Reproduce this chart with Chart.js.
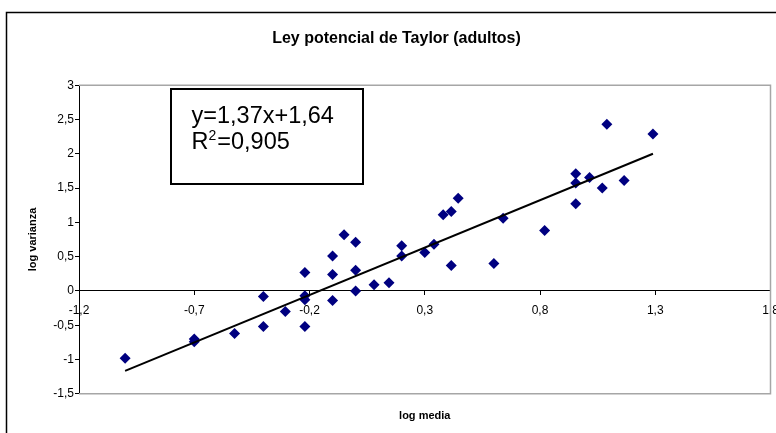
<!DOCTYPE html>
<html>
<head>
<meta charset="utf-8">
<script src="https://cdn.jsdelivr.net/npm/chart.js@4/dist/chart.umd.min.js"></script>
<style>
html,body{margin:0;padding:0;background:#fff;}
#wrap{width:776px;height:433px;position:relative;}
</style>
</head>
<body>
<div id="wrap"><canvas id="c" width="776" height="433"></canvas></div>
<script>
const chartTitle = 'Ley potencial de Taylor (adultos)';
const xTitle = 'log media';
const yTitle = 'log varianza';
const eqLine1 = 'y=1,37x+1,64';
const eqLine2a = 'R';
const eqLine2sup = '2';
const eqLine2b = '=0,905';

const xTicks = [-1.2, -0.7, -0.2, 0.3, 0.8, 1.3, 1.8];
const yTicks = [-1.5, -1, -0.5, 0, 0.5, 1, 1.5, 2, 2.5, 3];

const logMedia = [-1.00, -0.70, -0.70, -0.525, -0.40, -0.40, -0.305, -0.22, -0.22, -0.22,
  -0.22, -0.10, -0.10, -0.10, -0.05, 0.00, 0.00, 0.00, 0.08, 0.145,
  0.20, 0.20, 0.30, 0.34, 0.38, 0.415, 0.445, 0.415, 0.60, 0.64,
  0.82, 0.955, 0.955, 0.955, 1.015, 1.07, 1.09, 1.165, 1.29];
const logVarianza = [-0.98, -0.70, -0.74, -0.62, -0.08, -0.52, -0.30, 0.27, -0.07, -0.13,
  -0.52, 0.51, 0.24, -0.14, 0.82, 0.71, 0.30, 0.00, 0.09, 0.12,
  0.66, 0.51, 0.56, 0.68, 1.11, 1.16, 1.35, 0.37, 0.40, 1.06,
  0.88, 1.71, 1.575, 1.27, 1.655, 1.50, 2.43, 1.61, 2.29];

const trendX = [-1.00, 1.29];
const trendY = [-1.165, 2.00];

const FONT = "'Liberation Sans', Arial, sans-serif";
const fmt = v => String(v).replace('.', ',');

const decor = {
  id: 'decor',
  beforeDatasetsDraw(chart) {
    const {ctx, chartArea: a} = chart;
    ctx.save();
    ctx.strokeStyle = '#a6a6a6';
    ctx.lineWidth = 1.5;
    ctx.beginPath();
    ctx.moveTo(a.left, a.top); ctx.lineTo(a.right, a.top);
    ctx.lineTo(a.right, a.bottom); ctx.lineTo(a.left, a.bottom);
    ctx.stroke();
    ctx.restore();
  },
  afterDraw(chart) {
    const {ctx} = chart;
    ctx.save();
    // outer chart border
    ctx.strokeStyle = '#000';
    ctx.lineWidth = 1.5;
    ctx.strokeRect(6.5, 12.5, 800, 500);
    // equation box
    ctx.fillStyle = '#fff';
    ctx.fillRect(171, 89, 192, 95);
    ctx.lineWidth = 2;
    ctx.strokeRect(171, 89, 192, 95);
    ctx.fillStyle = '#000';
    ctx.textBaseline = 'alphabetic';
    ctx.textAlign = 'left';
    ctx.font = '23.5px ' + FONT;
    ctx.fillText(eqLine1, 191.5, 122.5);
    ctx.fillText(eqLine2a, 191.5, 149);
    const wR = ctx.measureText(eqLine2a).width;
    ctx.font = '14px ' + FONT;
    ctx.fillText(eqLine2sup, 191.5 + wR, 140);
    const wS = ctx.measureText(eqLine2sup).width;
    ctx.font = '23.5px ' + FONT;
    ctx.fillText(eqLine2b, 191.5 + wR + wS + 1, 149);
    ctx.restore();
  }
};

new Chart(document.getElementById('c'), {
  type: 'scatter',
  data: {
    datasets: [
      {
        label: 'tendencia',
        data: trendX.map((x, i) => ({x, y: trendY[i]})),
        showLine: true,
        borderColor: '#000',
        borderWidth: 2,
        pointRadius: 0,
        fill: false
      },
      {
        label: 'adultos',
        data: logMedia.map((x, i) => ({x, y: logVarianza[i]})),
        pointStyle: 'rectRot',
        pointRadius: 5.5,
        backgroundColor: '#000080',
        borderColor: '#000080',
        borderWidth: 0
      }
    ]
  },
  options: {
    responsive: false,
    animation: false,
    devicePixelRatio: 1,
    layout: {padding: {left: 22, right: 5, top: 0, bottom: 0}},
    plugins: {
      legend: {display: false},
      tooltip: {enabled: false},
      title: {
        display: true,
        text: chartTitle,
        color: '#000',
        font: {family: FONT, size: 16, weight: 'bold'},
        padding: {top: 29, bottom: 37}
      },
      subtitle: {
        display: true,
        text: xTitle,
        position: 'bottom',
        fullSize: false,
        color: '#000',
        font: {family: FONT, size: 11, weight: 'bold'},
        padding: {top: 16, bottom: 10}
      }
    },
    scales: {
      x: {
        type: 'linear',
        position: {y: 0},
        min: -1.2,
        max: 1.8,
        afterBuildTicks: s => { s.ticks = xTicks.map(v => ({value: v})); },
        afterFit: s => { s.paddingLeft = 0; s.paddingRight = 0; },
        ticks: {
          autoSkip: false, maxRotation: 0, padding: 9,
          color: '#000', font: {family: FONT, size: 12},
          callback: v => fmt(v)
        },
        grid: {drawOnChartArea: false, drawTicks: true, tickLength: 4, color: '#000', lineWidth: 1},
        border: {display: true, color: '#000', width: 1}
      },
      y: {
        type: 'linear',
        position: 'left',
        min: -1.5,
        max: 3,
        afterBuildTicks: s => { s.ticks = yTicks.map(v => ({value: v})); },
        afterFit: s => { s.width = 57; },
        ticks: {
          autoSkip: false, padding: 1,
          color: '#000', font: {family: FONT, size: 12},
          callback: v => fmt(v)
        },
        grid: {drawOnChartArea: false, drawTicks: true, tickLength: 4, color: '#000', lineWidth: 1},
        border: {display: true, color: '#000', width: 1},
        title: {
          display: true, text: yTitle, color: '#000',
          font: {family: FONT, size: 11, weight: 'bold'},
          padding: {top: 4, bottom: 0}
        }
      }
    }
  },
  plugins: [decor]
});
</script>
</body>
</html>
